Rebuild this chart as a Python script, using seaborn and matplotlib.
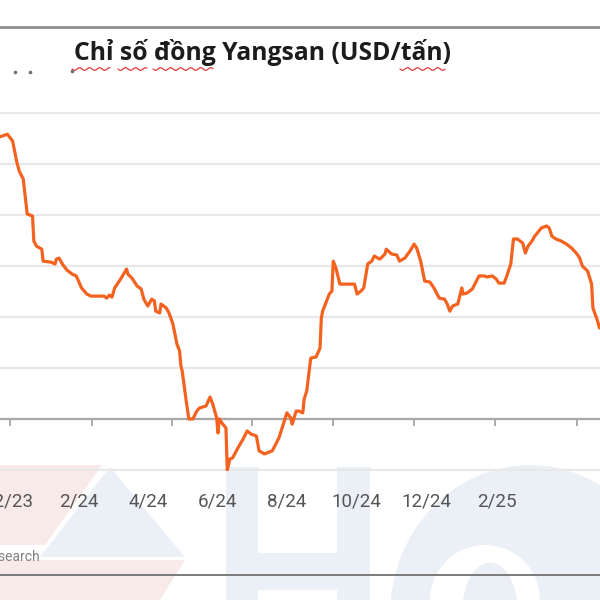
import numpy as np
import pandas as pd
import seaborn as sns
import matplotlib.pyplot as plt
import matplotlib.dates as mdates
from matplotlib.patches import Polygon, Ellipse
from matplotlib.lines import Line2D

# Yangshan copper premium (USD/t)
dates = [
    "2023-11-23", "2023-11-29", "2023-12-03", "2023-12-06", "2023-12-08", "2023-12-11",
    "2023-12-14", "2023-12-18", "2023-12-19", "2023-12-21", "2023-12-25", "2023-12-26",
    "2024-01-01", "2024-01-04", "2024-01-05", "2024-01-07", "2024-01-10", "2024-01-13",
    "2024-01-17", "2024-01-20", "2024-01-24", "2024-01-28", "2024-01-31",
    "2024-02-06", "2024-02-10", "2024-02-12", "2024-02-14", "2024-02-16", "2024-02-18",
    "2024-02-20", "2024-02-23", "2024-02-27", "2024-02-28",
    "2024-03-02", "2024-03-06", "2024-03-09", "2024-03-11", "2024-03-14", "2024-03-17",
    "2024-03-19", "2024-03-20", "2024-03-23", "2024-03-24", "2024-03-28", "2024-03-30",
    "2024-04-02", "2024-04-05", "2024-04-07", "2024-04-08", "2024-04-09", "2024-04-12",
    "2024-04-14", "2024-04-17", "2024-04-20", "2024-04-22", "2024-04-27", "2024-04-30",
    "2024-05-02", "2024-05-05", "2024-05-06", "2024-05-07", "2024-05-09", "2024-05-12",
    "2024-05-13", "2024-05-15", "2024-05-17", "2024-05-21", "2024-05-25", "2024-05-28", "2024-05-31",
    "2024-06-04", "2024-06-06", "2024-06-10", "2024-06-12", "2024-06-16", "2024-06-21",
    "2024-06-27", "2024-06-30",
    "2024-07-01", "2024-07-04", "2024-07-06", "2024-07-09", "2024-07-10", "2024-07-12",
    "2024-07-15", "2024-07-19", "2024-07-22", "2024-07-23", "2024-07-24", "2024-07-27",
    "2024-07-29", "2024-07-31",
    "2024-08-01", "2024-08-03", "2024-08-06", "2024-08-11", "2024-08-17", "2024-08-19",
    "2024-08-22", "2024-08-24", "2024-08-27", "2024-08-30",
    "2024-09-01", "2024-09-05", "2024-09-06", "2024-09-09", "2024-09-10", "2024-09-14",
    "2024-09-18", "2024-09-20", "2024-09-24", "2024-09-28",
    "2024-10-01", "2024-10-03", "2024-10-06", "2024-10-09", "2024-10-13", "2024-10-16",
    "2024-10-20", "2024-10-24", "2024-10-26", "2024-10-28", "2024-10-30",
    "2024-11-03", "2024-11-06", "2024-11-07", "2024-11-10", "2024-11-14", "2024-11-19",
    "2024-11-23", "2024-11-25", "2024-11-29",
    "2024-12-02", "2024-12-04", "2024-12-08", "2024-12-10", "2024-12-13", "2024-12-15",
    "2024-12-18", "2024-12-22", "2024-12-24", "2024-12-26", "2024-12-29", "2024-12-31",
    "2025-01-02", "2025-01-05", "2025-01-09", "2025-01-11", "2025-01-13", "2025-01-16",
    "2025-01-20", "2025-01-24", "2025-01-28",
    "2025-02-01", "2025-02-03", "2025-02-05", "2025-02-09", "2025-02-12", "2025-02-13",
    "2025-02-16", "2025-02-18",
]
premium = [
    110.6, 111.7, 109.0, 101.1, 97.2, 94.1, 80.4, 79.6, 69.8, 67.8, 66.6, 61.9,
    61.5, 60.8, 62.7, 63.1, 60.4, 58.4, 56.8, 56.1, 51.4, 49.0, 48.2,
    48.2, 48.2, 47.4, 48.6, 47.8, 51.4, 52.9, 55.3, 58.8, 56.8,
    55.3, 52.1, 51.0, 47.0, 44.3, 47.0, 46.3, 42.3, 41.6, 45.1, 43.5, 41.6,
    37.2, 29.4, 26.7, 20.8, 18.8, 7.1, 0.0, 0.0, 3.1, 4.3, 5.1, 8.6,
    5.9, 0.4, -5.5, 0.0, -1.6, -3.5, -20.0, -15.7, -15.3, -11.4, -7.8, -4.7, -5.9,
    -6.7, -12.5, -13.7, -13.3, -12.5, -7.4, 2.4, 0.4,
    -2.0, 3.1, 3.1, 2.4, 7.8, 11.0, 23.9, 24.3, 27.8, 39.6, 42.3, 46.3, 49.0, 50.2,
    61.9, 59.2, 52.9, 52.9, 52.9, 49.0, 50.2, 51.4, 60.8, 61.9,
    63.9, 62.7, 63.1, 64.7, 66.6, 64.7, 64.3, 61.9, 63.1, 65.9,
    68.6, 67.0, 61.9, 54.1, 53.7, 51.4, 47.4, 47.0, 45.1, 42.3, 44.3,
    45.1, 51.4, 49.0, 49.4, 51.0, 56.1, 56.1, 55.7, 56.1,
    54.9, 53.3, 53.3, 56.1, 60.8, 70.6, 70.6, 69.0, 65.1, 67.8, 69.8, 71.7,
    72.9, 74.9, 75.7, 74.9, 71.7, 70.6, 69.8, 68.6, 67.0,
    64.7, 63.1, 60.0, 58.0, 52.9, 43.5, 39.2, 35.7,
]
tick_dates = ["2023-12-01", "2024-02-01", "2024-04-01", "2024-06-01",
              "2024-08-01", "2024-10-01", "2024-12-01", "2025-02-01"]
tick_labels = ["12/23", "2/24", "4/24", "6/24", "8/24", "10/24", "12/24", "2/25"]
y_grid = [-20, 0, 20, 40, 60, 80, 100, 120]

df = pd.DataFrame({"date": pd.to_datetime(dates), "premium": premium})

sns.set_theme(style="white")
plt.rcParams["font.family"] = ["Open Sans", "DejaVu Sans"]

W = H = 600.0
fig = plt.figure(figsize=(6, 6), dpi=100)
fig.patch.set_facecolor("white")


def fx(px):
    return px / W


def fy(py):
    return 1 - py / H


def poly(pts, color):
    fig.patches.append(Polygon([(fx(x), fy(y)) for x, y in pts], closed=True,
                               transform=fig.transFigure, facecolor=color,
                               edgecolor="none", zorder=-5))


# faint logo watermark at the bottom
pink = "#f9eaea"
blue = "#ebeff6"
poly([(0, 465), (102, 465), (45, 545), (0, 545)], pink)
poly([(110, 467), (185, 557), (40, 557)], blue)
poly([(0, 560), (185, 560), (160, 600), (0, 600)], pink)
poly([(226, 467), (258, 467), (258, 600), (226, 600)], blue)
poly([(337, 467), (370, 467), (370, 600), (337, 600)], blue)
poly([(258, 553), (337, 553), (337, 590), (258, 590)], blue)
fig.patches.append(Ellipse((fx(530), fy(615)), 280 / W, 300 / H,
                           transform=fig.transFigure, facecolor=blue,
                           edgecolor="none", zorder=-5))
fig.patches.append(Ellipse((fx(485), fy(600)), 110 / W, 110 / H,
                           transform=fig.transFigure, facecolor="white",
                           edgecolor="none", zorder=-4))
fig.patches.append(Ellipse((fx(490), fy(610)), 55 / W, 95 / H,
                           transform=fig.transFigure, facecolor=blue,
                           edgecolor="none", zorder=-3))

ax = fig.add_axes([0, fy(471), 1, 359 / H])
ax.patch.set_alpha(0)

sns.lineplot(data=df, x="date", y="premium", color="#f4621f", linewidth=2.3,
             ax=ax, zorder=5)

x0 = pd.Timestamp("2023-11-23 11:00")
x1 = pd.Timestamp("2025-02-18 08:00")
ax.set_xlim(x0, x1)
ax.set_ylim(-20.4, 120.4)
ax.set_yticks(y_grid)
ax.yaxis.grid(True, color="#e8e8e8", linewidth=1.6)
ax.tick_params(axis="y", length=0, labelleft=False)
ax.set_xlabel("")
ax.set_ylabel("")

for s in ["top", "left", "right"]:
    ax.spines[s].set_visible(False)
ax.spines["bottom"].set_position(("data", 0))
ax.spines["bottom"].set_color("#a8a8a8")
ax.spines["bottom"].set_linewidth(1.6)
ax.set_xticks(pd.to_datetime(tick_dates))
ax.tick_params(axis="x", direction="out", length=5, width=1.4, color="#a8a8a8",
               labelbottom=False, bottom=True)

# month labels, drawn a little compressed like the source picture
span = mdates.date2num(x1) - mdates.date2num(x0)
for d, lab in zip(pd.to_datetime(tick_dates), tick_labels):
    frac = (mdates.date2num(d) - mdates.date2num(x0)) / span
    fig.text(frac * 0.861, fy(501), lab, ha="center", va="center", fontsize=13.5,
             color="#555555", family=["Roboto", "DejaVu Sans"])

fig.text(fx(262), fy(52), "Chỉ số đồng Yangsan (USD/tấn)", ha="center",
         va="center", fontsize=17.8, fontweight="bold", color="#1c1c1c")

# spell-check squiggles under the title
for a, b in [(72, 110), (118, 147), (153, 213), (400, 445)]:
    xs = np.linspace(a, b, int((b - a) * 3))
    ys = 69 + 1.3 * np.sin((xs - a) / 1.6)
    fig.add_artist(Line2D(fx(xs), fy(ys), color="#e0393e", linewidth=0.9,
                          transform=fig.transFigure))

# stray dots near the top left
fig.add_artist(Line2D(fx(np.array([15, 30, 72])), fy(np.array([72, 72, 71])),
                      linestyle="none", marker="o", markersize=1.6,
                      color="#707070", transform=fig.transFigure))

fig.add_artist(Line2D([0, 1], [fy(27), fy(27)], color="#8e8e8e", linewidth=2,
                      transform=fig.transFigure))
fig.add_artist(Line2D([0, 1], [fy(575), fy(575)], color="#7a7a7a", linewidth=1.4,
                      transform=fig.transFigure))
fig.text(fx(41), fy(557), "Research", ha="right", va="center", fontsize=10,
         color="#808080", family=["Roboto", "DejaVu Sans"])

fig.savefig("out.png", dpi=100)
